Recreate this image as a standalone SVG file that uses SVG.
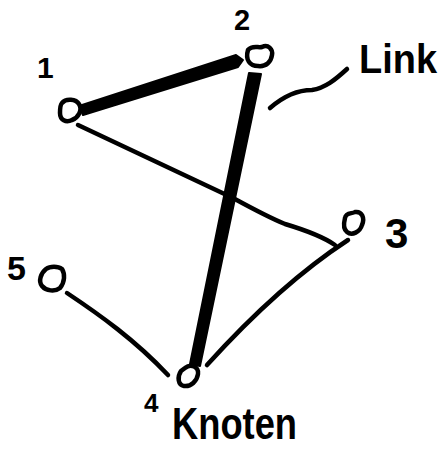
<svg xmlns="http://www.w3.org/2000/svg" width="441" height="450" viewBox="0 0 441 450">
<style>
.node{fill:none;stroke:#000;stroke-width:4.5;stroke-linejoin:round;stroke-linecap:round}
.edge{fill:none;stroke:#000;stroke-width:4.5;stroke-linecap:round;stroke-linejoin:round}
.thick{fill:#000;stroke:#000;stroke-width:2;stroke-linejoin:round}
.lbl{font-family:"Liberation Sans",Arial,sans-serif;font-weight:bold;fill:#000}
</style>
<rect width="441" height="450" fill="#fff"/>
<g id="connectors">
<path class="thick" d="M79,106 L236,55 L243,60 L238,67 L83,115 Z"/>
<path class="thick" d="M249,73 L261,74 L200,366 L190,364 Z"/>
<path class="edge" d="M78,125 L233,198 C255,210 270,218 285,224 C305,230 322,236 335,245"/>
<path class="edge" d="M348,240 C305,268 255,312 207,365"/>
<path class="edge" d="M67,293 C100,315 135,340 168,375"/>
<path class="edge" d="M270,108 C285,95 300,90 312,90 C325,88 335,80 347,69"/>
</g>
<g id="n1"><path class="node" d="M62,103 C66,98 76,99 79,104 C83,110 78,118 72,120 C66,123 60,120 60,113 C60,108 60,105 62,103 Z"/><text class="lbl" x="37" y="78" font-size="30">1</text></g>
<g id="n2"><path class="node" d="M248,50 C252,45 258,48 262,47 C268,44 273,49 272,55 C271,62 266,67 258,66 C250,66 245,60 248,50 Z"/><text class="lbl" x="234" y="30" font-size="29">2</text></g>
<g id="n3"><path class="node" d="M345,218 C346,212 352,214 355,212 C362,211 365,218 362,225 C360,232 352,236 347,232 C343,229 344,222 345,218 Z"/><text class="lbl" x="385" y="248" font-size="42">3</text></g>
<g id="n4"><path class="node" d="M185,368 C191,363 199,367 198,374 C197,381 191,387 184,386 C178,385 177,377 181,371 Z"/><text class="lbl" x="144" y="412" font-size="26">4</text></g>
<g id="n5"><path class="node" d="M46,269 C50,266 58,266 62,269 C65,274 65,282 60,288 C55,292 46,291 42,286 C38,281 41,273 46,269 Z"/><text class="lbl" x="7" y="280" font-size="34">5</text></g>
<g id="link-label"><text class="lbl" x="359" y="73" font-size="40" textLength="78" lengthAdjust="spacingAndGlyphs">Link</text></g>
<g id="knoten-label"><text class="lbl" x="172" y="439" font-size="44" textLength="125" lengthAdjust="spacingAndGlyphs">Knoten</text></g>
</svg>
